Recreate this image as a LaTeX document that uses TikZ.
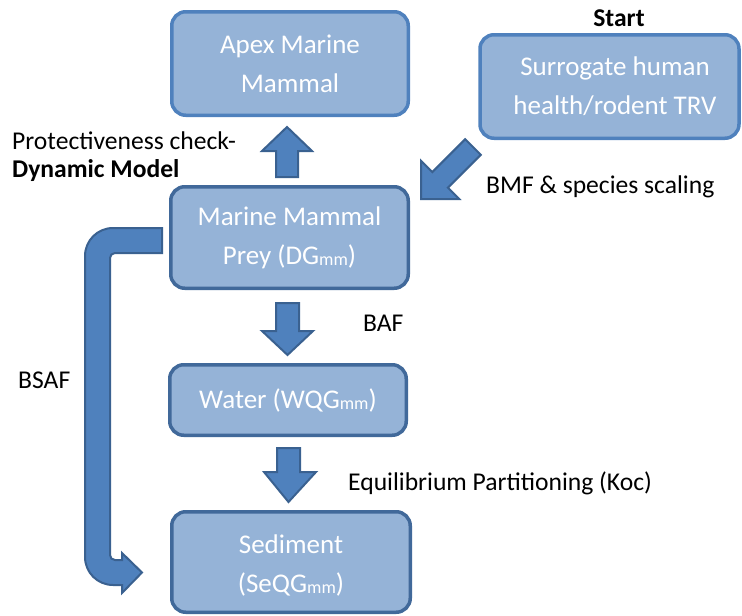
\documentclass[tikz,border=0pt]{standalone}
\usepackage{fontspec}
\setmainfont{Carlito}
\definecolor{boxfill}{HTML}{95B3D7}
\definecolor{lightedge}{HTML}{4F81BD}
\definecolor{darkedge}{HTML}{41699A}
\definecolor{arrowfill}{HTML}{4F81BD}
\definecolor{arrowedge}{HTML}{3A6190}
\newcommand\mmsub{\raisebox{-1pt}{\fontsize{18}{18}\selectfont mm}}
\tikzset{
  flowbox/.style={draw=darkedge, line width=3.5pt, fill=boxfill, rectangle,
    rounded corners=14pt, inner sep=0pt, text=white, align=center,
    font=\fontsize{27}{39}\selectfont},
  lightbox/.style={flowbox, draw=lightedge},
  boxtext/.style={inner sep=0pt, text=white, align=center, font=\fontsize{27}{39}\selectfont},
  blockarrow/.style={fill=arrowfill, draw=arrowedge, line width=2pt, line join=miter},
  lbl/.style={inner sep=0pt, anchor=base west, text=black, font=\fontsize{25.6}{30}\selectfont},
}
\begin{document}
\begin{tikzpicture}[x=1pt,y=-1pt]
\useasboundingbox (0,0) rectangle (742,616);
% boxes
\node[lightbox, minimum width=236.5pt, minimum height=103.5pt] (apex) at (290,63.5) {Apex Marine\\Mammal};
\node[lightbox, minimum width=259pt, minimum height=103.5pt] (surr) at (609.5,86.5) {};
\node[boxtext] (surrtext) at (615,86.5) {Surrogate human\\health/rodent TRV};
\node[flowbox, minimum width=237.5pt, minimum height=101.5pt] (prey) at (289.5,237.5) {Marine Mammal\\Prey (DG\mmsub)};
\node[flowbox, minimum width=236.5pt, minimum height=70.5pt] (water) at (288,400) {Water (WQG\mmsub)};
\node[flowbox, minimum width=238.5pt, minimum height=100.5pt] (sed) at (291,562) {};
\node[boxtext] (sedtext) at (291,565) {Sediment\\(SeQG\mmsub)};
% up arrow prey -> apex
\draw[blockarrow] (276,177) -- (276,151) -- (262,151) -- (287,127) -- (312,151) -- (298,151) -- (298,177) -- cycle;
% down arrow prey -> water
\draw[blockarrow] (276,303) -- (299,303) -- (299,331) -- (313,331) -- (287.5,355) -- (262,331) -- (276,331) -- cycle;
% down arrow water -> sediment
\draw[blockarrow] (277,448) -- (300,448) -- (300,472) -- (316,472) -- (288.5,502) -- (264,472) -- (277,472) -- cycle;
% diagonal arrow surrogate -> prey
\draw[blockarrow] (465.2,139.2) -- (432.3,172.1) -- (421,160.8) -- (421,199) -- (459.2,199) -- (447.9,187.7) -- (480.8,154.8) -- cycle;
% BSAF bent arrow prey -> sediment
\draw[blockarrow] (162,228) -- (113,228) .. controls (97.5,228) and (85,240.5) .. (85,256)
  -- (85,557) .. controls (85,572.5) and (97.5,585) .. (113,585)
  -- (122,585) -- (122,593) -- (142,572.5) -- (122,553) -- (122,560)
  -- (115,560) .. controls (112.2,560) and (110,557.8) .. (110,555)
  -- (110,258) .. controls (110,255.2) and (112.2,253) .. (115,253)
  -- (162,253) -- cycle;
% labels
\node[lbl, anchor=base, font=\bfseries\fontsize{25.6}{30}\selectfont] (start) at (619,26) {Start};
\node[lbl] (prot) at (12,149) {Protectiveness check-};
\node[lbl, font=\bfseries\fontsize{25.6}{30}\selectfont] (dyn) at (12,177) {Dynamic Model};
\node[lbl] (bmf) at (486,193) {BMF \& species scaling};
\node[lbl] (baf) at (363,331) {BAF};
\node[lbl] (bsaf) at (18,388) {BSAF};
\node[lbl] (eqp) at (348,490) {Equilibrium Partitioning (Koc)};
\end{tikzpicture}
\end{document}
